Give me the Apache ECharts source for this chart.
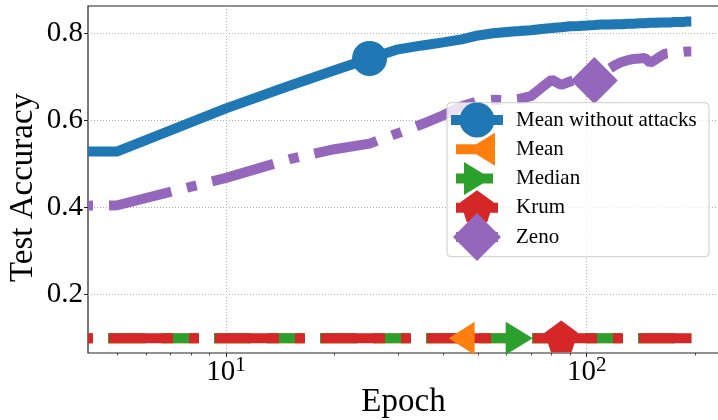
<!DOCTYPE html>
<html>
<head>
<meta charset="utf-8">
<script src="https://cdn.jsdelivr.net/npm/echarts@6/dist/echarts.min.js"></script>
<style>
  html, body { margin: 0; padding: 0; background: #fff; }
  #chart { width: 718px; height: 420px; }
</style>
</head>
<body>
<div id="chart"></div>
<script>
// Axis ranges (log-scaled epochs, accuracy)
const X_MIN = 4.1437, X_MAX = 232.7;
const Y_MIN = 0.0648, Y_MAX = 0.8638;

// Test accuracy per epoch for each aggregation rule; the first entry is the
// starting level, held flat from the left edge of the axis.
const epochs = [X_MIN, 5, 10, 15, 20, 25, 30, 35, 40, 45, 50, 55, 60, 65, 70, 75, 80, 85, 90, 95,
  100, 105, 110, 115, 120, 125, 130, 135, 140, 145, 150, 155, 160, 165, 170, 175, 180, 185, 190, 195];

const meanNoAttack = [0.529, 0.529, 0.628, 0.680, 0.716, 0.743, 0.764, 0.773, 0.780, 0.787,
  0.796, 0.801, 0.804, 0.806, 0.808, 0.811, 0.813, 0.815, 0.817, 0.818,
  0.819, 0.820, 0.821, 0.821, 0.822, 0.822, 0.823, 0.823, 0.824, 0.824,
  0.825, 0.825, 0.826, 0.826, 0.826, 0.827, 0.827, 0.827, 0.828, 0.828];

const meanAttacked = [0.099, 0.099, 0.099, 0.099, 0.099, 0.099, 0.099, 0.099, 0.099, 0.099,
  0.099, 0.099, 0.099, 0.099, 0.099, 0.099, 0.099, 0.099, 0.099, 0.099,
  0.099, 0.099, 0.099, 0.099, 0.099, 0.099, 0.099, 0.099, 0.099, 0.099,
  0.099, 0.099, 0.099, 0.099, 0.099, 0.099, 0.099, 0.099, 0.099, 0.099];

const median = [0.099, 0.099, 0.099, 0.099, 0.099, 0.099, 0.099, 0.099, 0.099, 0.099,
  0.099, 0.099, 0.099, 0.099, 0.099, 0.099, 0.099, 0.099, 0.099, 0.099,
  0.099, 0.099, 0.099, 0.099, 0.099, 0.099, 0.099, 0.099, 0.099, 0.099,
  0.099, 0.099, 0.099, 0.099, 0.099, 0.099, 0.099, 0.099, 0.099, 0.099];

const krum = [0.099, 0.099, 0.099, 0.099, 0.099, 0.099, 0.099, 0.099, 0.099, 0.099,
  0.099, 0.099, 0.099, 0.099, 0.099, 0.099, 0.099, 0.099, 0.099, 0.099,
  0.099, 0.099, 0.099, 0.099, 0.099, 0.099, 0.099, 0.099, 0.099, 0.099,
  0.099, 0.099, 0.099, 0.099, 0.099, 0.099, 0.099, 0.099, 0.099, 0.099];

const zeno = [0.404, 0.405, 0.468, 0.511, 0.534, 0.547, 0.571, 0.592, 0.612, 0.633,
  0.645, 0.648, 0.647, 0.650, 0.656, 0.676, 0.694, 0.682, 0.690, 0.696,
  0.691, 0.692, 0.705, 0.718, 0.728, 0.735, 0.739, 0.742, 0.743, 0.744,
  0.733, 0.740, 0.748, 0.754, 0.755, 0.756, 0.757, 0.758, 0.759, 0.759];

const seriesNames = ['Mean without attacks', 'Mean', 'Median', 'Krum', 'Zeno'];
// epoch at which each curve carries its marker
const markerEpochs = [25, 45, 65, 85, 105];

const xMajorTicks = [10, 100];
const xMinorTicks = [5, 6, 7, 8, 9, 20, 30, 40, 50, 60, 70, 80, 90, 200];
const yTicks = [0.2, 0.4, 0.6, 0.8];

const SERIF = 'Liberation Serif, Times New Roman, serif';
const COLORS = ['#1f77b4', '#ff7f0e', '#2ca02c', '#d62728', '#9467bd'];

// marker shapes
const PENTAGON = 'path://M0 -17.5 L16.64 -5.41 L10.29 14.16 L-10.29 14.16 L-16.64 -5.41 Z';

// legend handles: a bar for the line with the marker on top (62 x 50 box)
const BOX = 'M0 0 L0 0 Z M62 50 L62 50 Z ';
const legendIcons = [
  'path://' + BOX + 'M2 20 L54 20 L54 30 L2 30 Z M10.5 25 A17.5 17.5 0 0 1 45.5 25 A17.5 17.5 0 0 1 10.5 25 Z',
  'path://' + BOX + 'M7 20 L44 20 L44 30 L7 30 Z M19 25 L46 8.5 L46 41.5 Z',
  'path://' + BOX + 'M7 20 L44 20 L44 30 L7 30 Z M15 8.5 L42 25 L15 41.5 Z',
  'path://' + BOX + 'M7 20 L49 20 L49 30 L7 30 Z M28 7.5 L44.64 19.59 L38.29 39.16 L17.71 39.16 L11.36 19.59 Z',
  'path://' + BOX + 'M7 20 L49 20 L49 30 L7 30 Z M28 1 L52 25 L28 49 L4 25 Z'
];

function pairs(values) {
  return epochs.map((e, i) => [e, values[i]]);
}

function makeSeries(k, values, lineType, dashOffset, symbol, size, rotate, offset) {
  const markIdx = epochs.indexOf(markerEpochs[k]);
  return {
    name: seriesNames[k],
    type: 'line',
    data: pairs(values),
    color: COLORS[k],
    showSymbol: true,
    showAllSymbol: true,
    symbol: symbol,
    symbolRotate: rotate,
    symbolOffset: offset,
    symbolSize: (val, params) => (params.dataIndex === markIdx ? size : 0),
    itemStyle: { color: COLORS[k], borderWidth: 0, opacity: 1 },
    lineStyle: { color: COLORS[k], width: 10, type: lineType, dashOffset: dashOffset, cap: 'butt' },
    silent: true,
    clip: false,
    z: 2
  };
}

const chart = echarts.init(document.getElementById('chart'), null, { renderer: 'canvas' });

chart.setOption({
  animation: false,
  backgroundColor: '#fff',
  textStyle: { fontFamily: SERIF, color: '#000' },
  grid: {
    left: 88, top: 6, right: -1, bottom: 67,
    show: true, borderColor: '#222', borderWidth: 1.2, backgroundColor: 'transparent',
    containLabel: false, outerBoundsMode: 'none'
  },
  xAxis: [
    {
      type: 'log', logBase: 10, min: X_MIN, max: X_MAX, position: 'bottom',
      axisLine: { show: false },
      axisTick: { show: true, length: 4, customValues: xMajorTicks, lineStyle: { color: '#222', width: 1 } },
      axisLabel: {
        customValues: xMajorTicks, margin: 2,
        formatter: v => '{b|10}{s|' + Math.round(Math.log10(v)) + '}',
        rich: {
          b: { fontFamily: SERIF, fontSize: 29, color: '#000', lineHeight: 34 },
          s: { fontFamily: SERIF, fontSize: 21, color: '#000', verticalAlign: 'top', lineHeight: 22 }
        }
      },
      splitLine: { show: true, lineStyle: { color: '#b0b0b0', width: 1, type: [1, 2] } },
      name: 'Epoch', nameLocation: 'middle', nameGap: 33, nameMoveOverlap: false,
      nameTextStyle: { fontFamily: SERIF, fontSize: 33, color: '#000' }
    },
    {
      type: 'log', logBase: 10, min: X_MIN, max: X_MAX, position: 'bottom',
      axisLine: { show: false },
      axisTick: { show: true, length: 2.5, customValues: xMinorTicks, lineStyle: { color: '#222', width: 0.8 } },
      axisLabel: { show: false },
      splitLine: { show: false }
    }
  ],
  yAxis: {
    type: 'value', min: Y_MIN, max: Y_MAX,
    axisLine: { show: false },
    axisTick: { show: true, length: 4, customValues: yTicks, lineStyle: { color: '#222', width: 1 } },
    axisLabel: {
      customValues: yTicks, margin: 5,
      fontFamily: SERIF, fontSize: 29, color: '#000',
      formatter: v => v.toFixed(1)
    },
    splitLine: { show: true, lineStyle: { color: '#b0b0b0', width: 1, type: [1, 2] } },
    name: 'Test Accuracy', nameLocation: 'middle', nameGap: 48, nameRotate: 90, nameMoveOverlap: false,
    nameTextStyle: { fontFamily: SERIF, fontSize: 33, color: '#000', padding: [0, 16, 0, 0] }
  },
  legend: {
    orient: 'vertical', left: 449, top: 95,
    itemWidth: 62, itemHeight: 50, itemGap: -20.75, padding: 0,
    selectedMode: false,
    itemStyle: { borderWidth: 0 },
    textStyle: { fontFamily: SERIF, fontSize: 21, color: '#000' },
    data: seriesNames.map((n, i) => ({ name: n, icon: legendIcons[i] })),
    z: 4
  },
  graphic: [{
    type: 'rect', z: 3, silent: true,
    shape: { x: 447, y: 102.7, width: 262, height: 154, r: 4 },
    style: { fill: 'rgba(255,255,255,0.8)', stroke: '#cccccc', lineWidth: 1 }
  }],
  series: [
    makeSeries(0, meanNoAttack, 'solid', 0, 'circle', 35, 0, [0, 0]),
    makeSeries(1, meanAttacked, [37, 16], 33, 'triangle', [33, 26], 90, [0, 0]),
    makeSeries(2, median, [37, 16], 33, 'triangle', [33, 27], -90, [0, 0]),
    makeSeries(3, krum, [64, 16, 10, 16], 85, PENTAGON, [33.3, 31.7], 0, [0, -1.7]),
    makeSeries(4, zeno, [64, 16, 10, 16], 85, 'diamond', [47, 47], 0, [0, 0])
  ]
});
</script>
</body>
</html>
